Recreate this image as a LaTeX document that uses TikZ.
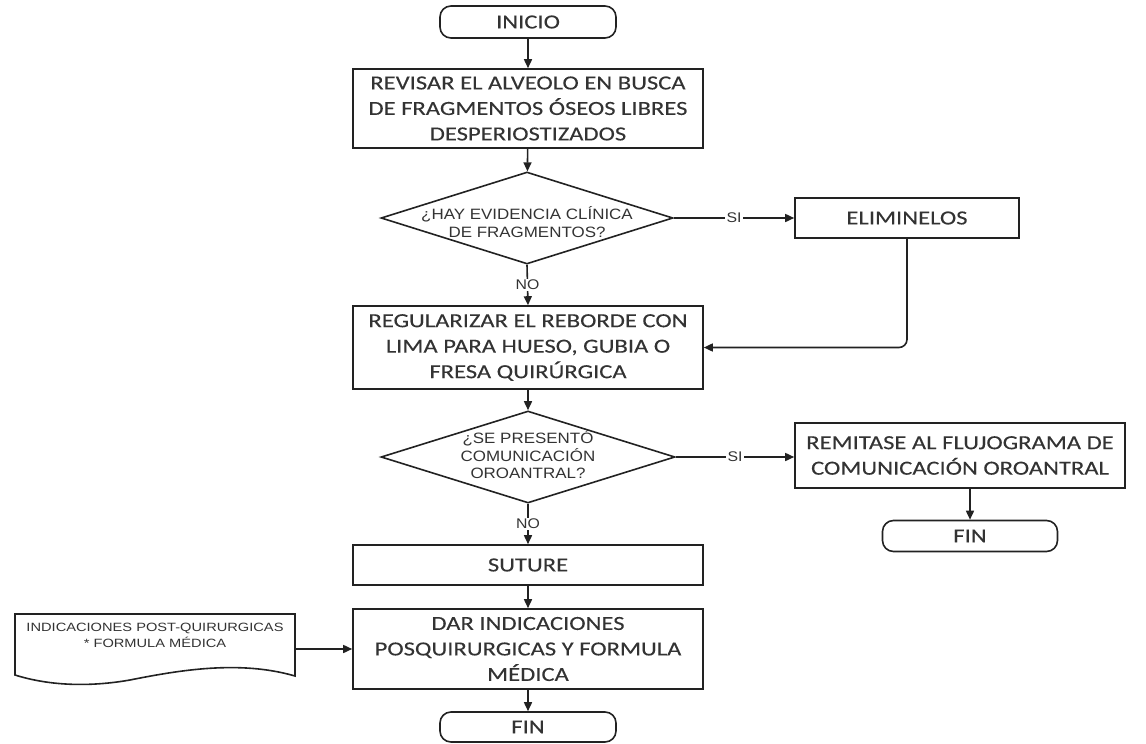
\documentclass[tikz,border=0pt]{standalone}
\usepackage{fontspec}
\usetikzlibrary{shapes.geometric,arrows.meta}
\newfontfamily\boxfont[FakeStretch=1.23,FakeBold=0.15]{Carlito}
\newfontfamily\arialfont[FakeStretch=1.13]{Liberation Sans}
\newfontfamily\docfont[FakeStretch=1.22]{Liberation Sans}
\definecolor{ink}{HTML}{222222}
\definecolor{txt}{HTML}{333333}
\begin{document}
\begin{tikzpicture}[x=1pt,y=-1pt,
  line width=1.6pt, draw=ink,
  arr/.style={-{Triangle[length=9pt,width=8pt]}, line width=1.6pt, draw=ink},
  proc/.style={draw=ink, rectangle, inner sep=0pt, align=center, text=txt,
    font=\boxfont\fontsize{20}{25.5}\selectfont},
  term/.style={draw=ink, rectangle, rounded corners=11pt, inner sep=0pt, text=txt,
    minimum width=176pt, font=\boxfont\fontsize{20}{25.5}\selectfont},
  dec/.style={draw=ink, diamond, inner sep=0pt},
  dectext/.style={align=center, inner sep=0pt, text=txt,
    font=\arialfont\fontsize{15}{17.5}\selectfont},
  lbl/.style={fill=white, inner sep=1.5pt, text=txt,
    font=\arialfont\fontsize{14}{16}\selectfont}
]
\useasboundingbox (0,0) rectangle (1146,744);

% main column
\node[term, minimum height=32pt] (inicio) at (528,22) {INICIO};
\node[proc, minimum width=350pt, minimum height=79pt] (revisar) at (528,108.5)
  {REVISAR EL ALVEOLO EN BUSCA\\DE FRAGMENTOS ÓSEOS LIBRES\\DESPERIOSTIZADOS};
\node[dec, minimum width=292pt, minimum height=92pt] (d1) at (527,218) {};
\node[dectext] (d1t) at (527,222) {¿HAY EVIDENCIA CLÍNICA\\DE FRAGMENTOS?};
\node[proc, minimum width=224pt, minimum height=40pt] (elim) at (907,218) {ELIMINELOS};
\node[proc, minimum width=350pt, minimum height=83pt] (regul) at (528,347.5)
  {REGULARIZAR EL REBORDE CON\\LIMA PARA HUESO, GUBIA O\\FRESA QUIRÚRGICA};
\node[dec, minimum width=294pt, minimum height=92pt] (d2) at (528,457) {};
\node[dectext] (d2t) at (528,455) {¿SE PRESENTÓ\\COMUNICACIÓN\\OROANTRAL?};
\node[proc, minimum width=330pt, minimum height=65pt] (remit) at (960,455.5)
  {REMITASE AL FLUJOGRAMA DE\\COMUNICACIÓN OROANTRAL};
\node[term, minimum height=31pt, minimum width=175pt] (fin1) at (970,536) {FIN};
\node[proc, minimum width=350pt, minimum height=40pt] (suture) at (528,565) {SUTURE};
\node[proc, minimum width=350pt, minimum height=80pt] (dar) at (528,649)
  {DAR INDICACIONES\\POSQUIRURGICAS Y FORMULA\\MÉDICA};
\node[term, minimum height=30pt] (fin2) at (528,727) {FIN};

% document shape
\draw[draw=ink] (15,614) -- (295,614) -- (295,676)
  .. controls (240,660) and (180,670) .. (130,680)
  .. controls (90,687) and (50,686) .. (15,675) -- cycle;
\node[align=center, inner sep=0pt, text=txt,
  font=\docfont\fontsize{12}{16}\selectfont] (doct) at (155,635)
  {INDICACIONES POST-QUIRURGICAS\\* FORMULA MÉDICA};
\coordinate (docout) at (295,649);

% connectors
\draw[arr] (inicio) -- (revisar);
\draw[arr] (revisar) -- (d1);
\draw[arr] (d1.east) -- node[lbl] (si1) {SI} (elim.west);
\draw[arr] (d1.south) -- node[lbl] (no1) {NO} (regul.north);
\draw[arr, rounded corners=8pt] (elim.south) |- (regul.east);
\draw[arr] (regul) -- (d2);
\draw[arr] (d2.east) -- node[lbl] (si2) {SI} (remit.west |- d2.east);
\draw[arr] (remit.south -| fin1) -- (fin1.north);
\draw[arr] (d2.south) -- node[lbl] (no2) {NO} (suture.north);
\draw[arr] (suture) -- (dar);
\draw[arr] (docout) -- (dar.west |- docout);
\draw[arr] (dar) -- (fin2);
\end{tikzpicture}
\end{document}
